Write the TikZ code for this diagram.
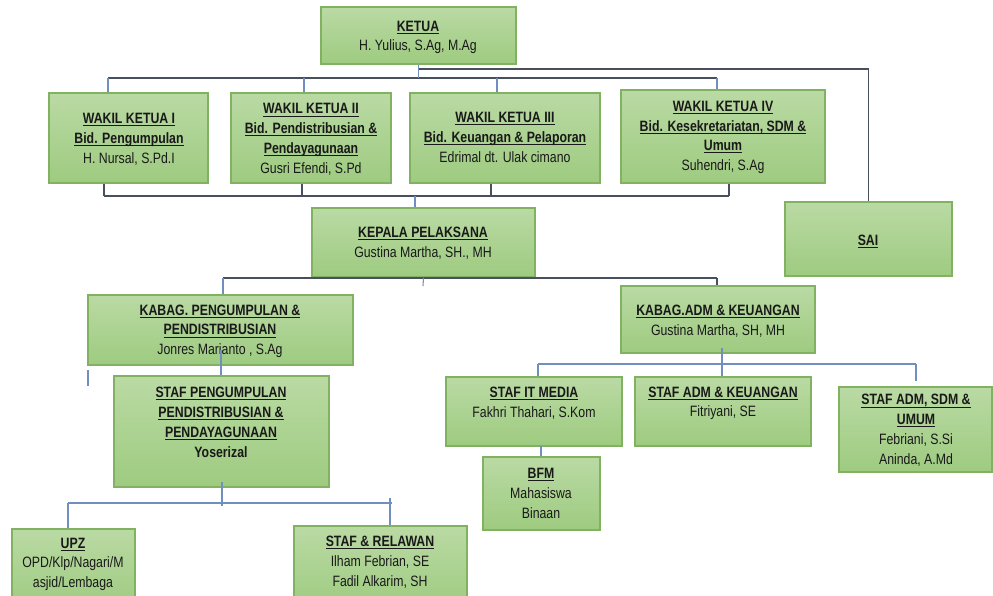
\documentclass[tikz,border=0pt]{standalone}
\usepackage{fontspec}
\setmainfont{Liberation Sans}[FakeStretch=0.82]
\usetikzlibrary{calc}
\definecolor{boxtop}{RGB}{186,218,164}
\definecolor{boxbot}{RGB}{158,203,128}
\definecolor{boxline}{RGB}{128,178,98}
\definecolor{linedark}{RGB}{72,80,94}
\definecolor{lineblue}{RGB}{112,142,190}
\newcommand{\hd}[1]{\textbf{$\underline{\smash{\mbox{#1}}}$}}
\newcommand{\orgbox}[5]{%
  \node[box, minimum width={(#4-#2)*0.75pt}, minimum height={(#5-#3)*0.75pt}] (#1) at ({(#2+#4)/2},{(#3+#5)/2}) {};}
\begin{document}
\begin{tikzpicture}[x=0.75pt,y=-0.75pt,
  box/.style={draw=boxline, line width=0.8pt, top color=boxtop, bottom color=boxbot, inner sep=0pt},
  txt/.style={align=center, inner sep=0pt, yshift=-4.9pt, text=black!90, font=\fontsize{11.25pt}{14.8pt}\selectfont},
  conn/.style={draw=linedark, line width=1.1pt},
  connb/.style={draw=lineblue, line width=0.8pt}]
\useasboundingbox (0,0) rectangle (993,596);
\fill[white] (0,0) rectangle (993,596);
\clip (0,0) rectangle (993,596);

% ---------- boxes ----------
\orgbox{ketua}{321}{7}{516}{64}
\orgbox{wk1}{49}{93}{208}{183}
\orgbox{wk2}{231}{93}{391}{183}
\orgbox{wk3}{410}{93}{600}{183}
\orgbox{wk4}{621}{90}{825}{183}
\orgbox{sai}{785}{202}{952}{276}
\orgbox{kepala}{312}{208}{535}{277}
\orgbox{kabagp}{88}{295}{353}{365}
\orgbox{stafp}{114}{376}{329}{487}
\orgbox{kabaga}{621}{286}{815}{353}
\orgbox{stafit}{446}{377}{622}{446}
\orgbox{stafak}{635}{377}{811}{446}
\orgbox{stafsdm}{839}{387}{992}{472}
\orgbox{bfm}{483}{457}{600}{530}
\orgbox{upz}{12}{529}{135}{610}
\orgbox{relawan}{294}{526}{467}{610}

% ---------- texts ----------
\node[txt] (ketuat) at (418,36) {\hd{KETUA}\\H. Yulius, S.Ag, M.Ag};
\node[txt] (wk1t) at (129,138) {\hd{WAKIL KETUA I}\\\hd{Bid. Pengumpulan}\\H. Nursal, S.Pd.I};
\node[txt] (wk2t) at (311,138) {\hd{WAKIL KETUA II}\\\hd{Bid. Pendistribusian \&}\\\hd{Pendayagunaan}\\Gusri Efendi, S.Pd};
\node[txt] (wk3t) at (505,136) {\hd{WAKIL KETUA III}\\\hd{Bid. Keuangan \& Pelaporan}\\Edrimal dt. Ulak cimano};
\node[txt] (wk4t) at (723,136) {\hd{WAKIL KETUA IV}\\\hd{Bid. Kesekretariatan, SDM \&}\\\hd{Umum}\\Suhendri, S.Ag};
\node[txt] (sait) at (868,240) {\hd{SAI}};
\node[txt] (kepalat) at (423,242) {\hd{KEPALA PELAKSANA}\\Gustina Martha, SH., MH};
\node[txt] (kabagpt) at (220,330) {\hd{KABAG. PENGUMPULAN \&}\\\hd{PENDISTRIBUSIAN}\\Jonres Marianto , S.Ag};
\node[txt] (stafpt) at (221,421) {\hd{STAF PENGUMPULAN}\\\hd{PENDISTRIBUSIAN \&}\\\hd{PENDAYAGUNAAN}\\\textbf{Yoserizal}};
\node[txt] (kabagat) at (718,320) {\hd{KABAG.ADM \& KEUANGAN}\\Gustina Martha, SH, MH};
\node[txt] (stafitt) at (534,402) {\hd{STAF IT MEDIA}\\Fakhri Thahari, S.Kom};
\node[txt] (stafakt) at (723,402) {\hd{STAF ADM \& KEUANGAN}\\Fitriyani, SE};
\node[txt] (stafsdmt) at (916,429) {\hd{STAF ADM, SDM \&}\\\hd{UMUM}\\Febriani, S.Si\\Aninda, A.Md};
\node[txt] (bfmt) at (541,492) {\hd{BFM}\\Mahasiswa\\Binaan};
\node[txt] (upzt) at (73,563) {\hd{UPZ}\\OPD/Klp/Nagari/M\\asjid/Lembaga};
\node[txt] (relawant) at (380,561) {\hd{STAF \& RELAWAN}\\Ilham Febrian, SE\\Fadil Alkarim, SH};

% ---------- connectors ----------
% Ketua -> Wakil Ketua / SAI
\coordinate (ks) at (418,69);
\coordinate (b1l) at (108,78);
\coordinate (b1r) at (717,78);
\coordinate (d2) at (304,78);
\coordinate (d3) at (497,78);
\draw[conn] (ks) -| (sai.north);
\draw[conn] (b1l) -- (b1r);
\draw[connb] (ketua.south) -- (ketua.south |- b1l);
\draw[connb] (b1l) -- (b1l |- wk1.north);
\draw[connb] (d2) -- (d2 |- wk2.north);
\draw[connb] (d3) -- (d3 |- wk3.north);
\draw[connb] (b1r) -- (b1r |- wk4.north);
% Wakil Ketua -> Kepala Pelaksana
\coordinate (b2l) at (104,196);
\coordinate (b2r) at (729,196);
\coordinate (e2) at (302,196);
\coordinate (e3) at (491,196);
\coordinate (ek) at (415,196);
\draw[conn] (b2l) -- (b2r);
\draw[conn] (b2l) -- (b2l |- wk1.south);
\draw[conn] (e2) -- (e2 |- wk2.south);
\draw[conn] (e3) -- (e3 |- wk3.south);
\draw[conn] (b2r) -- (b2r |- wk4.south);
\draw[connb] (ek) -- (ek |- kepala.north);
% Kepala -> Kabag
\coordinate (b3l) at (223,278);
\coordinate (b3r) at (717,278);
\coordinate (kst) at (423,286);
\draw[conn] (b3l) -- (b3r);
\draw[connb] (kepala.south) -- (kst);
\draw[connb] (b3l) -- (b3l |- kabagp.north);
\draw[conn] (b3r) -- (b3r |- kabaga.north);
% Kabag pengumpulan -> Staf pengumpulan
\coordinate (kp1) at (221,350);
\draw[connb] (kp1) -- (kp1 |- stafp.north);
\coordinate (s1) at (88,370);
\coordinate (s2) at (88,386);
\draw[connb] (s1) -- (s2);
% Staf pengumpulan -> UPZ / Relawan
\coordinate (sp1) at (222,482);
\coordinate (sp2) at (222,506);
\coordinate (b4l) at (68,503);
\coordinate (b4r) at (392,503);
\coordinate (r1) at (390,498);
\draw[connb] (sp1) -- (sp2);
\draw[connb] (b4l) -- (b4r);
\draw[connb] (b4l) -- (b4l |- upz.north);
\draw[connb] (r1) -- (r1 |- relawan.north);
% Kabag ADM -> staf
\coordinate (ka1) at (722,348);
\coordinate (b5l) at (538,364);
\coordinate (b5r) at (916,364);
\coordinate (b5e) at (916,381);
\draw[connb] (ka1) -- (ka1 |- b5l);
\draw[connb] (b5l) -- (b5r);
\draw[connb] (b5l) -- (b5l |- stafit.north);
\draw[connb] (ka1 |- b5l) -- (ka1 |- stafak.north);
\draw[connb] (b5r) -- (b5e);
% Staf IT -> BFM
\coordinate (it1) at (541,446);
\draw[connb] (it1) -- (it1 |- bfm.north);
\end{tikzpicture}
\end{document}
